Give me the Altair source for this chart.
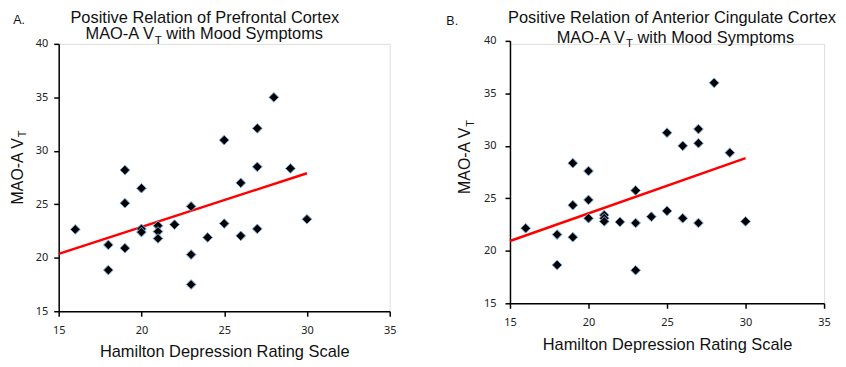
import altair as alt
import pandas as pd

# Panel A: Prefrontal cortex
hamd_a = [19, 25, 27, 28, 27, 29, 26, 20, 19, 16, 20, 20, 21, 21, 21, 22, 23, 23, 23, 18, 18, 19, 24, 25, 26, 27, 30]
vt_a = [28.2, 31.0, 32.1, 35.0, 28.5, 28.35, 27.0, 26.5, 25.1, 22.65, 22.7, 22.4, 23.0, 22.45, 21.8, 23.1, 24.8,
        20.3, 17.5, 21.2, 18.85, 20.9, 21.9, 23.2, 22.05, 22.7, 23.6]
# Panel B: Anterior cingulate cortex
hamd_b = [19, 20, 25, 26, 27, 27, 28, 29, 16, 18, 18, 19, 19, 20, 20, 21, 21, 21, 22, 23, 23, 23, 24, 25, 26, 27, 30]
vt_b = [28.35, 27.6, 31.25, 30.0, 31.6, 30.25, 36.0, 29.35, 22.15, 21.55, 18.65, 24.35, 21.3, 24.85, 23.1, 23.4,
        23.1, 22.8, 22.75, 25.75, 22.65, 18.15, 23.25, 23.8, 23.1, 22.65, 22.8]

# Trend lines (end points at HAM-D 15 and 30)
trend_x = [15, 30]
trend_a = [20.36, 27.9]
trend_b = [20.93, 28.83]

x_ticks = [15, 20, 25, 30, 35]
y_ticks = [15, 20, 25, 30, 35, 40]

FONT = "Liberation Sans"
TICKFONT = "Noto Sans"
TXT = "#111111"


def txt(s, x, y, size=16.5, align="left", angle=0, baseline="alphabetic"):
    return alt.Chart(pd.DataFrame({"t": [s]})).mark_text(
        align=align, baseline=baseline, font=FONT, fontSize=size, angle=angle, color=TXT
    ).encode(text="t:N", x=alt.value(x), y=alt.value(y))


def panel(xs, ys, trend, w, yrange, letter, letter_pos, line1, l1_pos, l2_pos, ytitle_pos, ylabpad):
    df = pd.DataFrame({"x": xs, "y": ys})
    tdf = pd.DataFrame({"x": trend_x, "y": trend})
    xscale = alt.Scale(domain=[15, 35], nice=False, zero=False)
    yscale = alt.Scale(domain=[15, 40], nice=False, zero=False, range=yrange)
    xenc = alt.X("x:Q", scale=xscale,
                 axis=alt.Axis(values=x_ticks, title="Hamilton Depression Rating Scale",
                               titleFont=FONT, titleFontSize=16.5, titleFontWeight="normal",
                               titleColor=TXT, titlePadding=9,
                               labelFont=TICKFONT, labelFontSize=11, labelColor="#222222",
                               labelPadding=8, labelFlush=False, labelOverlap=False,
                               tickSize=5, tickColor="black", tickWidth=1.5,
                               domainColor="black", domainWidth=1.5, grid=False))
    yenc = alt.Y("y:Q", scale=yscale,
                 axis=alt.Axis(values=y_ticks, title=None,
                               labelFont=TICKFONT, labelFontSize=11, labelColor="#222222",
                               labelPadding=ylabpad, labelOverlap=False,
                               tickSize=5, tickColor="black", tickWidth=1.5,
                               domainColor="black", domainWidth=1.5, grid=False))
    pts = alt.Chart(df).mark_point(
        shape="diamond", filled=True, size=95, fill="black", stroke="#79a6dc",
        strokeWidth=1, opacity=1
    ).encode(x=xenc, y=yenc)
    fit = alt.Chart(tdf).mark_line(color="#ff0000", strokeWidth=2.5).encode(
        x=alt.X("x:Q", scale=xscale), y=alt.Y("y:Q", scale=yscale))

    vw = 4.223 * 16.5  # width of "MAO-A V" at 16.5px
    tw = 0.611 * 11.5
    sp = 0.278 * 16.5
    l2x, l2y = l2_pos
    yx, yy = ytitle_pos
    layers = [
        fit, pts,
        txt(letter, letter_pos[0], letter_pos[1], size=12.5),
        txt(line1, l1_pos[0], l1_pos[1], align="center", baseline="top"),
        txt("MAO-A V", l2x, l2y),
        txt("T", l2x + vw, l2y + 4.5, size=11.5),
        txt("with Mood Symptoms", l2x + vw + tw + sp, l2y),
        txt("MAO-A V", yx, yy, size=16, angle=270),
        txt("T", yx + 3.5, yy - 4.223 * 16, size=11, angle=270),
    ]
    return alt.layer(*layers).properties(width=w, height=max(yrange))


pa = panel(hamd_a, vt_a, trend_a, 333, [269, 0], "A.", (-45.7, -20.3),
           "Positive Relation of Prefrontal Cortex", (147, -34), (27, -4.5), (-36, 161.5), 6)
pb = panel(hamd_b, vt_b, trend_b, 316, [261, -3], "B.", (-64, -18.5),
           "Positive Relation of Anterior Cingulate Cortex", (163, -34), (47, -1.3), (-40, 151), 9)

chart = alt.hconcat(pa, pb, spacing=49).properties(
    padding={"left": 1, "top": 0, "right": 0, "bottom": 0}
).configure_view(stroke=None).configure(background="white")

chart.save("out.html", embed_options={"renderer": "svg", "actions": False})
